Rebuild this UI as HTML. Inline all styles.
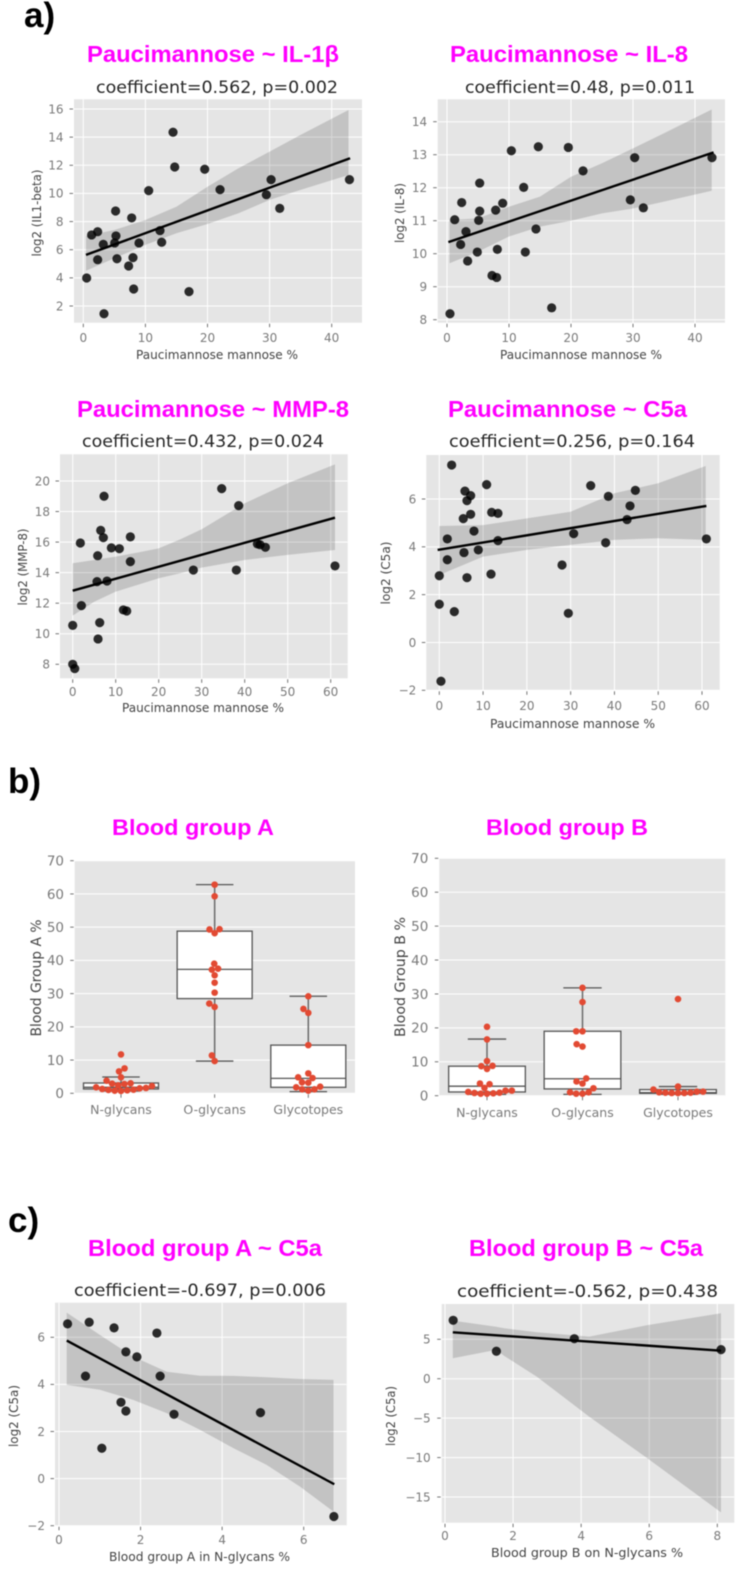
<!DOCTYPE html>
<html lang="en">
<head>
<meta charset="utf-8">
<title>Paucimannose and blood group correlations</title>
<style>
html,body{margin:0;padding:0;background:#fff;}
svg{display:block;filter:blur(.55px);}
.letter{font:bold 35px "Liberation Sans",sans-serif;fill:#000;}
.title{font:bold 23.5px "Liberation Sans",sans-serif;fill:#ff00ff;}
.title2{font:bold 22px "Liberation Sans",sans-serif;fill:#ff00ff;}
.sub{font:17.2px "DejaVu Sans",sans-serif;fill:#262626;}
.axl{font:12.4px "DejaVu Sans",sans-serif;fill:#444;}
.axl2{font:13.8px "DejaVu Sans",sans-serif;fill:#444;}
.tick{font:12px "DejaVu Sans",sans-serif;fill:#7a7a7a;}
.tick2{font:13.5px "DejaVu Sans",sans-serif;fill:#7a7a7a;}
.cat{font:12.5px "DejaVu Sans",sans-serif;fill:#7a7a7a;}
</style>
</head>
<body>
<svg id="fig" width="742" height="1569" viewBox="0 0 742 1569" xmlns="http://www.w3.org/2000/svg">
<rect x="0" y="0" width="742" height="1569" fill="#fff"/>
<text class="letter" x="24" y="27">a)</text>
<text class="letter" x="8" y="793">b)</text>
<text class="letter" x="8" y="1232">c)</text>

<g id="p1"></g>
<g>
<text class="title" x="87" y="62" textLength="252" lengthAdjust="spacingAndGlyphs">Paucimannose ~ IL-1β</text>
<text class="sub" x="96" y="93" textLength="242" lengthAdjust="spacingAndGlyphs">coefficient=0.562, p=0.002</text>
<text class="axl" x="136" y="359" textLength="162" lengthAdjust="spacingAndGlyphs">Paucimannose mannose %</text>
<text class="axl" transform="translate(41,213) rotate(-90)" text-anchor="middle" textLength="87" lengthAdjust="spacingAndGlyphs">log2 (IL1-beta)</text>
</g>

<g id="p2"></g>
<g>
<text class="title" x="450" y="62" textLength="238" lengthAdjust="spacingAndGlyphs">Paucimannose ~ IL-8</text>
<text class="sub" x="465" y="93" textLength="230" lengthAdjust="spacingAndGlyphs">coefficient=0.48, p=0.011</text>
<text class="axl" x="500" y="359" textLength="162" lengthAdjust="spacingAndGlyphs">Paucimannose mannose %</text>
<text class="axl" transform="translate(404,213) rotate(-90)" text-anchor="middle" textLength="60" lengthAdjust="spacingAndGlyphs">log2 (IL-8)</text>
</g>

<g id="p3"></g>
<g>
<text class="title" x="77" y="417" textLength="272" lengthAdjust="spacingAndGlyphs">Paucimannose ~ MMP-8</text>
<text class="sub" x="82" y="447" textLength="242" lengthAdjust="spacingAndGlyphs">coefficient=0.432, p=0.024</text>
<text class="axl" x="122" y="712" textLength="162" lengthAdjust="spacingAndGlyphs">Paucimannose mannose %</text>
<text class="axl" transform="translate(27,567) rotate(-90)" text-anchor="middle" textLength="77" lengthAdjust="spacingAndGlyphs">log2 (MMP-8)</text>
</g>

<g id="p4"></g>
<g>
<text class="title" x="448" y="417" textLength="239" lengthAdjust="spacingAndGlyphs">Paucimannose ~ C5a</text>
<text class="sub" x="449" y="447" textLength="246" lengthAdjust="spacingAndGlyphs">coefficient=0.256, p=0.164</text>
<text class="axl" x="490" y="728" textLength="165" lengthAdjust="spacingAndGlyphs">Paucimannose mannose %</text>
<text class="axl" transform="translate(390,573) rotate(-90)" text-anchor="middle" textLength="63" lengthAdjust="spacingAndGlyphs">log2 (C5a)</text>
</g>

<g id="p5"></g>
<g>
<text class="title2" x="112" y="835" textLength="162" lengthAdjust="spacingAndGlyphs">Blood group A</text>
<text class="axl2" transform="translate(41,978) rotate(-90)" text-anchor="middle" textLength="117" lengthAdjust="spacingAndGlyphs">Blood Group A %</text>
</g>

<g id="p6"></g>
<g>
<text class="title2" x="486" y="835" textLength="162" lengthAdjust="spacingAndGlyphs">Blood group B</text>
<text class="axl2" transform="translate(405,977) rotate(-90)" text-anchor="middle" textLength="120" lengthAdjust="spacingAndGlyphs">Blood Group B %</text>
</g>

<g id="p7"></g>
<g>
<text class="title" x="88" y="1256" textLength="234" lengthAdjust="spacingAndGlyphs">Blood group A ~ C5a</text>
<text class="sub" x="74" y="1296" textLength="252" lengthAdjust="spacingAndGlyphs">coefficient=-0.697, p=0.006</text>
<text class="axl" x="109" y="1561" textLength="181" lengthAdjust="spacingAndGlyphs">Blood group A in N-glycans %</text>
<text class="axl" transform="translate(18,1416) rotate(-90)" text-anchor="middle" textLength="62" lengthAdjust="spacingAndGlyphs">log2 (C5a)</text>
</g>

<g id="p8"></g>
<g>
<text class="title" x="469" y="1256" textLength="234" lengthAdjust="spacingAndGlyphs">Blood group B ~ C5a</text>
<text class="sub" x="457" y="1297" textLength="261" lengthAdjust="spacingAndGlyphs">coefficient=-0.562, p=0.438</text>
<text class="axl" x="491" y="1557" textLength="192" lengthAdjust="spacingAndGlyphs">Blood group B on N-glycans %</text>
<text class="axl" transform="translate(395,1416) rotate(-90)" text-anchor="middle" textLength="60" lengthAdjust="spacingAndGlyphs">log2 (C5a)</text>
</g>
</svg>

<script>
// ---- Panel 1: Paucimannose ~ IL-1beta
const il1PointsX = [0.54,1.34,2.31,3.22,2.31,3.33,5.05,5.2,5.26,5.42,7.3,7.79,8.0,8.11,8.97,10.53,12.35,12.62,14.45,14.72,17.02,19.55,22.02,29.48,30.24,31.63,42.86];
const il1PointsY = [3.99,7.05,7.28,6.38,5.29,1.45,6.48,8.75,6.98,5.36,4.84,8.26,5.44,3.21,6.48,10.2,7.36,6.53,14.35,11.88,3.02,11.72,10.27,9.91,10.98,8.94,10.98];
const il1LineX = [0.43,42.96];
const il1LineY = [5.63,12.5];
const il1BandX = [0.43,5,10,15,20,25,30,35,42.7];
const il1BandUpper = [6.98,7.4,8.11,9.06,10.48,11.79,12.97,14.16,15.93];
const il1BandLower = [4.51,5.39,6.34,7.17,7.83,8.59,9.54,10.25,11.31];
const il1XTicks = [0,10,20,30,40];
const il1YTicks = [2,4,6,8,10,12,14,16];

// ---- Panel 2: Paucimannose ~ IL-8
const il8PointsX = [0.48,1.24,2.37,2.2,3.06,3.33,4.89,5.11,5.27,5.27,7.26,8.01,7.85,8.12,8.98,10.38,12.37,12.63,14.35,14.73,16.88,19.57,21.94,29.57,30.27,31.67,42.74];
const il8PointsY = [8.18,11.03,11.55,10.28,10.67,9.78,10.05,11.01,11.29,12.14,9.34,9.28,11.32,10.13,11.53,13.12,12.01,10.05,10.75,13.24,8.36,13.22,12.51,11.63,12.91,11.39,12.91];
const il8LineX = [0.22,43.0];
const il8LineY = [10.35,13.07];
const il8BandX = [0.4,5,10,15,20,25,30,35,42.7];
const il8BandUpper = [11.02,11.07,11.42,11.73,12.33,12.74,13.19,13.65,14.37];
const il8BandLower = [9.71,10.06,10.52,10.82,11.0,11.22,11.37,11.58,11.91];
const il8XTicks = [0,10,20,30,40];
const il8YTicks = [8,9,10,11,12,13,14];

// ---- Panel 3: Paucimannose ~ MMP-8
const mmpPointsX = [0,0,0.47,1.78,2.02,5.81,5.66,5.89,6.28,6.51,7.13,7.29,7.98,8.99,10.85,11.78,12.56,13.41,13.41,28.06,34.65,38.06,38.6,42.95,43.57,44.81,61.0];
const mmpPointsY = [10.55,8.0,7.72,15.94,11.84,15.11,13.41,9.66,10.73,16.77,16.29,19.0,13.45,15.62,15.57,11.56,11.49,14.72,16.34,14.17,19.5,14.17,18.39,15.88,15.83,15.66,14.44];
const mmpLineX = [0,61];
const mmpLineY = [12.82,17.6];
const mmpBandX = [0,5,10,15,20,25,30,40,50,61];
const mmpBandUpper = [14.61,14.83,15.05,15.31,15.59,16.18,16.84,18.54,19.85,21.09];
const mmpBandLower = [11.19,12.1,12.76,13.19,13.63,13.96,14.33,14.83,15.16,15.48];
const mmpXTicks = [0,10,20,30,40,50,60];
const mmpYTicks = [8,10,12,14,16,18,20];

// ---- Panel 4: Paucimannose ~ C5a
const c5PointsX = [2.82,0,0,0.38,1.83,1.83,3.43,5.48,5.64,5.86,6.32,6.32,7.16,7.16,7.92,8.91,10.81,11.81,11.96,13.4,13.4,28.03,29.47,30.69,34.58,38.0,38.61,42.88,43.56,44.78,61.0];
const c5PointsY = [7.42,2.79,1.6,-1.62,4.33,3.46,1.29,5.18,3.76,6.33,5.93,2.71,6.14,5.36,4.66,3.87,6.6,2.86,5.44,5.4,4.26,3.24,1.22,4.55,6.56,4.17,6.11,5.14,5.71,6.36,4.33];
const c5LineX = [-0.38,61];
const c5LineY = [3.87,5.71];
const c5BandX = [0,10,20,30,40,50,60.85];
const c5BandUpper = [4.87,4.91,5.19,5.47,6.24,6.66,7.38];
const c5BandLower = [2.82,3.59,3.87,4.08,4.29,4.36,4.29];
const c5XTicks = [0,10,20,30,40,50,60];
const c5YTicks = [-2,0,2,4,6];

// ---- Panel 7: Blood group A ~ C5a
const bgaC5PointsX = [0.21,0.74,0.65,1.35,1.05,1.52,1.64,1.64,1.91,2.4,2.48,2.82,4.94,6.74];
const bgaC5PointsY = [6.57,6.64,4.35,6.4,1.29,3.24,2.87,5.38,5.17,6.18,4.35,2.73,2.8,-1.61];
const bgaC5LineX = [0.19,6.75];
const bgaC5LineY = [5.86,-0.24];
const bgaC5BandX = [0.19,1.0,1.82,2.64,3.46,4.28,5.09,5.91,6.73];
const bgaC5BandUpper = [7.05,6.1,5.18,4.54,4.37,4.36,4.3,4.23,4.19];
const bgaC5BandLower = [3.98,3.77,3.34,2.78,2.07,1.29,0.58,-0.34,-1.4];
const bgaC5XTicks = [0,2,4,6];
const bgaC5YTicks = [-2,0,2,4,6];

// ---- Panel 8: Blood group B ~ C5a
const bgbC5PointsX = [0.24,1.51,3.8,8.11];
const bgbC5PointsY = [7.41,3.48,5.08,3.69];
const bgbC5LineX = [0.23,8.11];
const bgbC5LineY = [5.89,3.56];
const bgbC5BandX = [0.23,1.5,1.74,2.7,4.24,5.95,8.11];
const bgbC5BandUpper = [7.37,6.6,6.4,5.9,5.34,6.8,8.3];
const bgbC5BandLower = [2.59,3.65,2.9,0.26,-4.81,-10.1,-16.95];
const bgbC5XTicks = [0,2,4,6,8];
const bgbC5YTicks = [-15,-10,-5,0,5];

// ---- Panels 5 and 6: box plots
const boxCategories = ['N-glycans','O-glycans','Glycotopes'];
const boxYTicks = [0,10,20,30,40,50,60,70];

const groupANValues = [11.7,7.5,6.6,4.8,3.8,3.0,2.9,2.8,2.4,2.2,1.8,1.6,1.5,1.3,1.1,1.0,0.9,0.8,0.7];
const groupAOValues = [62.8,59.3,49.4,49.3,48.2,39,37.5,37.2,35.5,33.3,30.3,27,26,11.4,9.7];
const groupAGValues = [29.2,25.4,24.2,14.5,6.0,4.8,4.6,3.3,3.2,2.0,1.8,1.2,1.2,0.8];
const groupAQ1 = [1.3,28.5,1.8];
const groupAMedian = [1.8,37.3,4.5];
const groupAQ3 = [3.1,48.8,14.5];
const groupALow = [0.7,9.7,0.5];
const groupAHigh = [4.9,62.8,29.2];

const groupBNValues = [20.3,16.6,10.2,8.8,8.7,7.9,3.6,3.4,2.3,1.5,1.5,1.1,0.9,0.8,0.7,0.6,0.6];
const groupBOValues = [31.8,27.6,19.0,19.0,15.2,14.5,5.1,4.2,3.6,2.2,1.0,1.0,0.6,0.6];
const groupBGValues = [28.5,2.7,1.8,1.2,1.2,1.0,0.9,0.9,0.8,0.8,0.8];
const groupBQ1 = [1.1,2.0,0.7];
const groupBMedian = [2.8,5.0,0.9];
const groupBQ3 = [8.7,19.0,1.8];
const groupBLow = [0.4,0.4,0.4];
const groupBHigh = [16.7,31.8,2.7];

const NS = 'http://www.w3.org/2000/svg';

function linear(d0, d1, p0, p1) {
  return function (v) { return p0 + (v - d0) * (p1 - p0) / (d1 - d0); };
}
function make(tag, attrs, parent) {
  const node = document.createElementNS(NS, tag);
  for (const k in attrs) node.setAttribute(k, attrs[k]);
  parent.appendChild(node);
  return node;
}
function fmt(v) { return String(v).replace('-', '\u2212'); }

function drawFrame(g, box, sx, sy, xTicks, yTicks, opts) {
  const bg = make('rect', {x: box.l, y: box.t, width: box.r - box.l, height: box.b - box.t, fill: '#e5e5e5'}, g);
  
  
  yTicks.forEach(function (v) {
    const py = sy(v);
    const grid = make('line', {x1: box.l, x2: box.r, y1: py, y2: py, stroke: '#fff', 'stroke-width': 1}, g);
    
    
    const mark = make('line', {x1: box.l - 4.5, x2: box.l - 1, y1: py, y2: py, stroke: '#666', 'stroke-width': 0.9}, g);
    
    
    const lab = make('text', {x: box.l - opts.gap, y: py + opts.tickSize * 0.36, 'text-anchor': 'end', 'class': opts.tickClass}, g);
    lab.textContent = fmt(v);
    
    
  });
  xTicks.forEach(function (v, i) {
    const px = sx(v);
    if (opts.xGrid) {
      const grid = make('line', {x1: px, x2: px, y1: box.t, y2: box.b, stroke: '#fff', 'stroke-width': 1}, g);
      
      
    }
    const mark = make('line', {x1: px, x2: px, y1: box.b + 1, y2: box.b + 4.5, stroke: '#666', 'stroke-width': 0.9}, g);
    
    
    const lab = make('text', {x: px, y: opts.xLabelY, 'text-anchor': 'middle', 'class': opts.xTickClass}, g);
    lab.textContent = opts.xNames ? opts.xNames[i] : fmt(v);
    
    
  });
}

function drawScatter(id, box, sx, sy, xTicks, yTicks, xLabelY, gap, px, py, lx, ly, bx, bu, bl) {
  const g = document.getElementById(id);
  drawFrame(g, box, sx, sy, xTicks, yTicks, {gap: gap, tickClass: 'tick', tickSize: 12, xTickClass: 'tick', xLabelY: xLabelY, xGrid: true});
  const pts = [];
  bx.forEach(function (v, i) { pts.push(sx(v).toFixed(1) + ',' + sy(bu[i]).toFixed(1)); });
  for (let i = bx.length - 1; i >= 0; i--) pts.push(sx(bx[i]).toFixed(1) + ',' + sy(bl[i]).toFixed(1));
  const band = make('polygon', {points: pts.join(' '), fill: '#000', 'fill-opacity': 0.15}, g);
  
  
  px.forEach(function (v, i) {
    const dot = make('circle', {cx: sx(v), cy: sy(py[i]), r: 4.6, fill: '#000', 'fill-opacity': 0.82}, g);
    
    
  });
  const line = make('line', {x1: sx(lx[0]), y1: sy(ly[0]), x2: sx(lx[1]), y2: sy(ly[1]), stroke: '#000', 'stroke-width': 2.4}, g);
  
  
}

// Beeswarm layout: each value keeps its y, x is pushed aside only to avoid overlap.
function swarm(values, center, sy, d) {
  const placed = [];
  values.slice().sort(function (a, b) { return a - b; }).forEach(function (v) {
    const y = sy(v);
    const near = placed.filter(function (p) { return Math.abs(p.y - y) < d; });
    const cands = [center];
    near.forEach(function (p) {
      const off = Math.sqrt(d * d - (p.y - y) * (p.y - y));
      cands.push(p.x - off, p.x + off);
    });
    cands.sort(function (a, b) { return Math.abs(a - center) - Math.abs(b - center); });
    const x = cands.find(function (c) {
      return near.every(function (p) {
        return (p.x - c) * (p.x - c) + (p.y - y) * (p.y - y) >= d * d - 0.01;
      });
    });
    placed.push({x: x, y: y});
  });
  return placed;
}

function drawBoxes(id, box, sx, sy, xLabelY, gap, width, q1, med, q3, low, high, groups) {
  const g = document.getElementById(id);
  drawFrame(g, box, sx, sy, [0, 1, 2], boxYTicks, {gap: gap, tickClass: 'tick2', tickSize: 13.5, xTickClass: 'cat', xLabelY: xLabelY, xGrid: false, xNames: boxCategories});
  boxCategories.forEach(function (name, i) {
    const cx = sx(i);
    const w1 = make('line', {x1: cx, x2: cx, y1: sy(q3[i]), y2: sy(high[i]), stroke: '#6a6a6a', 'stroke-width': 1.5}, g);
    
    
    const w2 = make('line', {x1: cx, x2: cx, y1: sy(q1[i]), y2: sy(low[i]), stroke: '#6a6a6a', 'stroke-width': 1.5}, g);
    
    
    const c1 = make('line', {x1: cx - width / 4, x2: cx + width / 4, y1: sy(high[i]), y2: sy(high[i]), stroke: '#555', 'stroke-width': 1.3}, g);
    
    
    const c2 = make('line', {x1: cx - width / 4, x2: cx + width / 4, y1: sy(low[i]), y2: sy(low[i]), stroke: '#555', 'stroke-width': 1.3}, g);
    
    
    const r = make('rect', {x: cx - width / 2, y: sy(q3[i]), width: width, height: sy(q1[i]) - sy(q3[i]), fill: '#fff', stroke: '#555', 'stroke-width': 1.3}, g);
    
    
    const m = make('line', {x1: cx - width / 2, x2: cx + width / 2, y1: sy(med[i]), y2: sy(med[i]), stroke: '#555', 'stroke-width': 1.3}, g);
    
    
  });
  boxCategories.forEach(function (name, i) {
    swarm(groups[i], sx(i), sy, 6.3).forEach(function (p) {
      const dot = make('circle', {cx: p.x, cy: p.y, r: 3.3, fill: '#e24a33'}, g);
      
      
    });
  });
}

drawScatter('p1', {l: 74, r: 362, t: 99.3, b: 322.7}, linear(0, 40, 83.3, 331.7), linear(2, 16, 306, 109), il1XTicks, il1YTicks, 342, 10.5,
  il1PointsX, il1PointsY, il1LineX, il1LineY, il1BandX, il1BandUpper, il1BandLower);
drawScatter('p2', {l: 437.7, r: 725, t: 99.3, b: 322.7}, linear(0, 40, 447, 695), linear(8, 14, 319.7, 121.7), il8XTicks, il8YTicks, 342, 10.5,
  il8PointsX, il8PointsY, il8LineX, il8LineY, il8BandX, il8BandUpper, il8BandLower);
drawScatter('p3', {l: 60, r: 347.7, t: 454.3, b: 678.3}, linear(0, 60, 72.7, 330.7), linear(8, 20, 664.3, 481), mmpXTicks, mmpYTicks, 696, 10,
  mmpPointsX, mmpPointsY, mmpLineX, mmpLineY, mmpBandX, mmpBandUpper, mmpBandLower);
drawScatter('p4', {l: 426.3, r: 719.7, t: 455, b: 690.3}, linear(0, 60, 439.3, 702), linear(-2, 6, 690.3, 499), c5XTicks, c5YTicks, 710, 10,
  c5PointsX, c5PointsY, c5LineX, c5LineY, c5BandX, c5BandUpper, c5BandLower);
drawBoxes('p5', {l: 74.7, r: 355, t: 860.7, b: 1093.3}, linear(0, 2, 121, 308.3), linear(0, 70, 1093.3, 860.7), 1114, 10.7, 75,
  groupAQ1, groupAMedian, groupAQ3, groupALow, groupAHigh, [groupANValues, groupAOValues, groupAGValues]);
drawBoxes('p6', {l: 439.3, r: 725.3, t: 858.3, b: 1095.7}, linear(0, 2, 487, 678), linear(0, 70, 1095.7, 858.3), 1117, 11, 76.7,
  groupBQ1, groupBMedian, groupBQ3, groupBLow, groupBHigh, [groupBNValues, groupBOValues, groupBGValues]);
drawScatter('p7', {l: 55, r: 346.7, t: 1302.7, b: 1525.7}, linear(0, 6, 59, 303.7), linear(-2, 6, 1525.7, 1337.3), bgaC5XTicks, bgaC5YTicks, 1544, 10,
  bgaC5PointsX, bgaC5PointsY, bgaC5LineX, bgaC5LineY, bgaC5BandX, bgaC5BandUpper, bgaC5BandLower);
drawScatter('p8', {l: 441.7, r: 734.3, t: 1304, b: 1522.7}, linear(0, 8, 445, 717.3), linear(-15, 5, 1497, 1339.3), bgbC5XTicks, bgbC5YTicks, 1540, 11,
  bgbC5PointsX, bgbC5PointsY, bgbC5LineX, bgbC5LineY, bgbC5BandX, bgbC5BandUpper, bgbC5BandLower);
</script>
</body>
</html>
